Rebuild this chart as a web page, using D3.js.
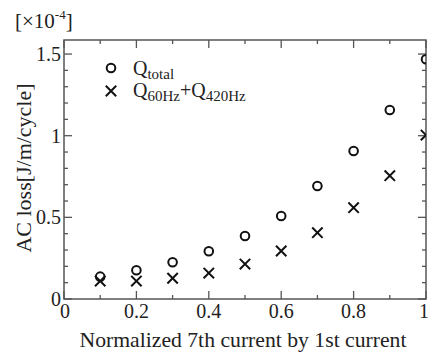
<!DOCTYPE html>
<html><head><meta charset="utf-8">
<script src="https://cdn.jsdelivr.net/npm/d3@7"></script>
<style>body{margin:0;background:#fff}svg{display:block}</style>
</head><body><svg id="c" width="428" height="352"></svg>
<script>
const xValues = [0.1,0.2,0.3,0.4,0.5,0.6,0.7,0.8,0.9,1.0];
const qTotal = [0.137,0.176,0.225,0.292,0.386,0.508,0.692,0.906,1.157,1.468];
const qHarm  = [0.110,0.110,0.127,0.159,0.214,0.294,0.406,0.559,0.755,1.004];
const xTickLabels = ["0","0.2","0.4","0.6","0.8","1"];
const yTickLabels = ["0","0.5","1","1.5"];

const FONT = "'Liberation Serif', 'Times New Roman', Times, 'DejaVu Serif', serif";
const svg = d3.select("#c");
const L=64,R=426,T=40,B=299;
const x = d3.scaleLinear().domain([0,1]).range([L,R]);
const y = d3.scaleLinear().domain([0,1.586]).range([B,T]);
const axCol="#555";
function txt(sel){ return sel.append("text").attr("font-family",FONT).attr("fill","#222"); }
function fitScale(t,w){ const len=t.node().getComputedTextLength(); return w/len; }

svg.append("clipPath").attr("id","clip").append("rect").attr("x",L).attr("y",T).attr("width",R-L).attr("height",B-T);

const g = svg.append("g");
const xMinor = d3.range(0,1.0001,0.1), yMinor = d3.range(0,1.58,0.1);
xMinor.forEach((v,i)=>{
  const len = (i%2===0)?8:4;
  g.append("line").attr("x1",x(v)).attr("x2",x(v)).attr("y1",B).attr("y2",B-len).attr("stroke",axCol).attr("stroke-width",1.3);
  g.append("line").attr("x1",x(v)).attr("x2",x(v)).attr("y1",T).attr("y2",T+len).attr("stroke",axCol).attr("stroke-width",1.3);
});
yMinor.forEach((v,i)=>{
  const len = (i%5===0)?8:4;
  g.append("line").attr("y1",y(v)).attr("y2",y(v)).attr("x1",L).attr("x2",L+len).attr("stroke",axCol).attr("stroke-width",1.3);
  g.append("line").attr("y1",y(v)).attr("y2",y(v)).attr("x1",R).attr("x2",R-len).attr("stroke",axCol).attr("stroke-width",1.3);
});
g.append("rect").attr("x",L).attr("y",T).attr("width",R-L).attr("height",B-T).attr("fill","none").attr("stroke",axCol).attr("stroke-width",1.5);

xTickLabels.forEach(t=>{
  const a = (t==="1") ? "end" : "middle";
  txt(svg).attr("x",t==="1"?R+3:(t==="0"?x(0)+1:x(+t))).attr("y",B+19).attr("text-anchor",a).attr("font-size",20).text(t);
});
yTickLabels.forEach(t=>{
  txt(svg).attr("x",L-3).attr("y",y(+t)+7).attr("text-anchor","end").attr("font-size",20).text(t);
});

const xt = txt(svg).attr("x",243).attr("y",347).attr("text-anchor","middle").attr("font-size",18).text("Normalized 7th current by 1st current");
xt.attr("font-size",(18*fitScale(xt,327)).toFixed(2));
const yt = txt(svg).attr("transform","translate(31,168) rotate(-90)").attr("text-anchor","middle").attr("font-size",18).text("AC loss[J/m/cycle]");
yt.attr("font-size",(18*fitScale(yt,169)).toFixed(2));
const ex = txt(svg).attr("x",15).attr("y",28).attr("font-size",21);
ex.append("tspan").text("[×10");
ex.append("tspan").attr("font-size",13).attr("dy",-9).text("-4");
ex.append("tspan").attr("dy",9).text("]");

const pts = svg.append("g").attr("clip-path","url(#clip)");
pts.selectAll("circle.t").data(xValues).enter().append("circle")
  .attr("cx",d=>x(d)).attr("cy",(d,i)=>y(qTotal[i])).attr("r",4.3)
  .attr("fill","none").attr("stroke","#111").attr("stroke-width",2);
const cs=5.2;
pts.selectAll("path.h").data(xValues).enter().append("path")
  .attr("d",(d,i)=>{const cx=x(d),cy=y(qHarm[i]);return `M${cx-cs},${cy-cs}L${cx+cs},${cy+cs}M${cx-cs},${cy+cs}L${cx+cs},${cy-cs}`;})
  .attr("stroke","#111").attr("stroke-width",2).attr("fill","none");

svg.append("circle").attr("cx",111).attr("cy",68).attr("r",4.3).attr("fill","none").attr("stroke","#111").attr("stroke-width",2);
svg.append("path").attr("d",`M${111-cs},${91-cs}L${111+cs},${91+cs}M${111-cs},${91+cs}L${111+cs},${91-cs}`).attr("stroke","#111").attr("stroke-width",2);
const l1 = txt(svg).attr("x",133).attr("y",75).attr("font-size",20);
l1.append("tspan").text("Q");
l1.append("tspan").attr("font-size",15).attr("dy",3.5).text("total");
const l2 = txt(svg).attr("x",133).attr("y",97).attr("font-size",20);
l2.append("tspan").text("Q");
l2.append("tspan").attr("font-size",15).attr("dy",3.5).text("60Hz");
l2.append("tspan").attr("dy",-3.5).text("+Q");
l2.append("tspan").attr("font-size",15).attr("dy",3.5).text("420Hz");
</script></body></html>
